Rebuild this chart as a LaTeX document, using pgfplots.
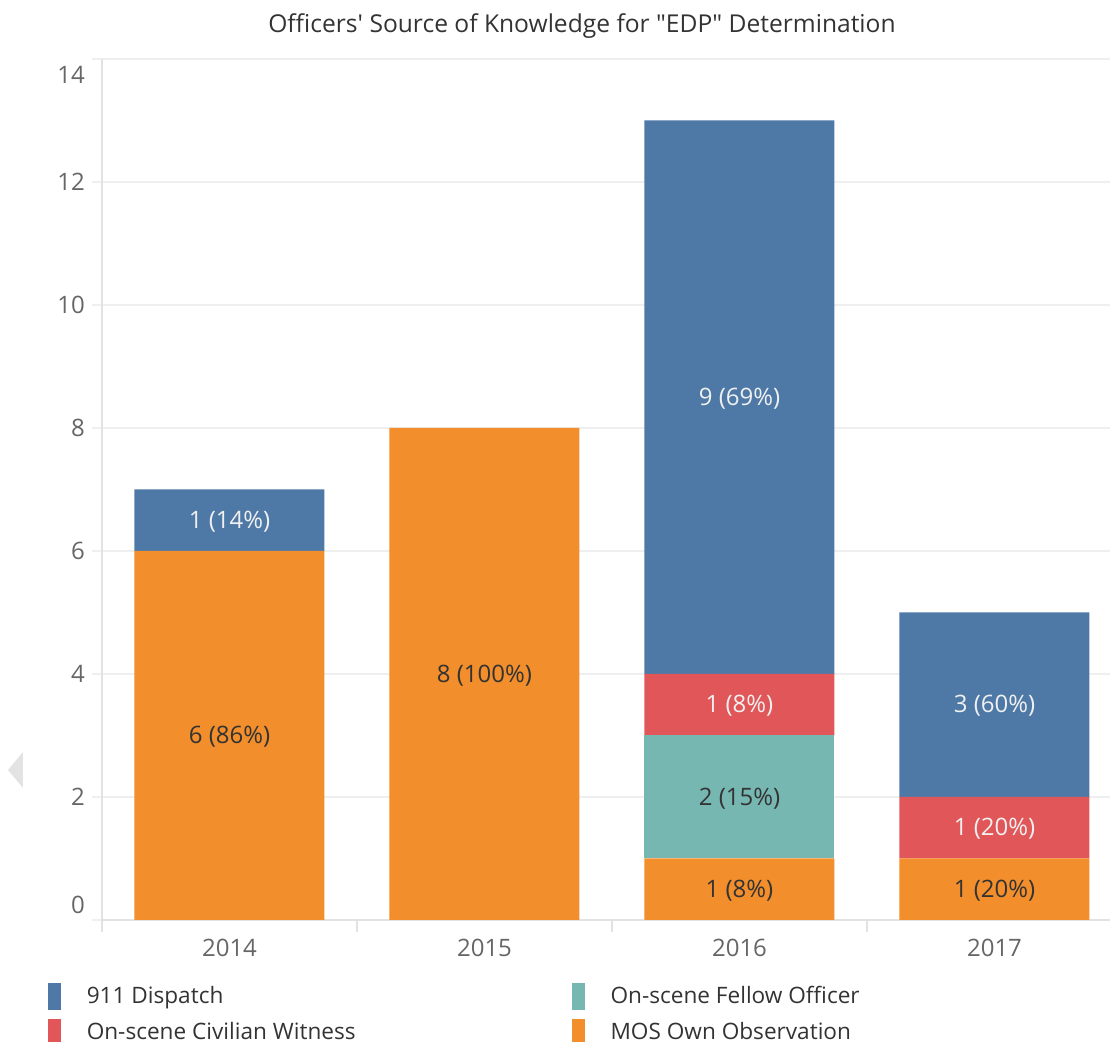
\documentclass[border=0pt]{standalone}
\usepackage{fontspec}
\setmainfont{Open Sans}
\newfontfamily\plainfont{Open Sans}
\usepackage{pgfplots}
\pgfplotsset{compat=1.18}
\definecolor{tabBlue}{HTML}{4E79A7}
\definecolor{tabOrange}{HTML}{F28E2B}
\definecolor{tabRed}{HTML}{E15759}
\definecolor{tabTeal}{HTML}{76B7B2}
\definecolor{tickgray}{HTML}{666666}
\definecolor{textdark}{HTML}{333333}
\definecolor{gridgray}{HTML}{EFEFEF}
\definecolor{axisgray}{HTML}{E2E2E2}
\tikzset{dl/.style={font=\fontsize{12}{14}\selectfont, text=textdark, yshift=-0.7pt},
         ll/.style={font=\fontsize{12}{14}\selectfont, text=white!94!black, yshift=-0.7pt}}

\begin{document}
\begin{tikzpicture}
\useasboundingbox (-51pt,-61pt) rectangle (504pt,460pt);

% title
\node[font=\plainfont\fontsize{12.3}{15}\selectfont, text=textdark] at (240pt,447pt)
  {Officers' Source of Knowledge for "EDP" Determination};

% scroll arrow at the left edge
\fill[gray!22] (-47pt,75pt) -- (-39.5pt,84pt) -- (-39.5pt,66pt) -- cycle;

\begin{axis}[
  scale only axis,
  width=504pt, height=430.5pt,
  ybar stacked,
  bar width=95pt,
  xmin=-0.5, xmax=3.453,
  ymin=0, ymax=14,
  xtick={0,1,2,3},
  xticklabels={2014,2015,2016,2017},
  ytick={0,2,4,6,8,10,12,14},
  yticklabels={\raisebox{7.5pt}[8.6pt][0pt]{0},2,4,6,8,10,12,\raisebox{-8pt}[8.6pt][0pt]{14}},
  /pgf/number format/assume math mode=true,
  ticklabel style={font=\fontsize{12}{14}\selectfont, text=tickgray},
  xticklabel style={yshift=-1pt},
  axis lines*=left,
  axis line style={draw=axisgray, line width=0.8pt},
  tick align=outside,
  major tick length=5pt,
  ytick style={draw=gridgray, line width=0.8pt},
  xtick style={draw=none},
  ymajorgrids,
  grid style={draw=gridgray, line width=0.8pt},
  clip=false,
  legend columns=2,
  legend cell align=left,
  legend style={
    draw=none, fill=none,
    at={(-0.054,-0.0713)}, anchor=north west,
    font=\fontsize{11.3}{13}\selectfont,
    text=textdark,
    inner sep=0pt,
    row sep=4pt,
    /tikz/every odd column/.append style={column sep=11pt},
  },
  legend image code/.code={\fill[#1] (0pt,-6.5pt) rectangle (6pt,6.5pt);},
]
% legend entries in display order
\addlegendimage{tabBlue}
\addlegendentry{\makebox[240.5pt][l]{911 Dispatch}}
\addlegendimage{tabTeal}
\addlegendentry{On-scene Fellow Officer}
\addlegendimage{tabRed}
\addlegendentry{\makebox[240.5pt][l]{On-scene Civilian Witness}}
\addlegendimage{tabOrange}
\addlegendentry{MOS Own Observation}

% stacked bars, bottom to top
\addplot[fill=tabOrange, draw=none, forget plot] coordinates {(0,6) (1,8) (2,1) (3,1)};
\addplot[fill=tabTeal,   draw=none, forget plot] coordinates {(0,0) (1,0) (2,2) (3,0)};
\addplot[fill=tabRed,    draw=none, forget plot] coordinates {(0,0) (1,0) (2,1) (3,1)};
\addplot[fill=tabBlue,   draw=none, forget plot] coordinates {(0,1) (1,0) (2,9) (3,3)};

% anchor points for separators and segment labels
\coordinate (s0) at (axis cs:-0.5,0);
\coordinate (s1) at (axis cs:0.5,0);
\coordinate (s2) at (axis cs:1.5,0);
\coordinate (s3) at (axis cs:2.5,0);
\coordinate (a1) at (axis cs:0,3);
\coordinate (a2) at (axis cs:0,6.5);
\coordinate (b1) at (axis cs:1,4);
\coordinate (c1) at (axis cs:2,0.5);
\coordinate (c2) at (axis cs:2,2);
\coordinate (c3) at (axis cs:2,3.5);
\coordinate (c4) at (axis cs:2,8.5);
\coordinate (d1) at (axis cs:3,0.5);
\coordinate (d2) at (axis cs:3,1.5);
\coordinate (d3) at (axis cs:3,3.5);
\end{axis}

% category separators below the baseline
\foreach \p in {s0,s1,s2,s3}
  \draw[axisgray, line width=0.8pt] (\p) -- ([yshift=-6pt]\p);

% segment labels
\node[dl] at (a1) {6 (86\%)};
\node[ll] at (a2) {1 (14\%)};
\node[dl] at (b1) {8 (100\%)};
\node[dl] at (c1) {1 (8\%)};
\node[dl] at (c2) {2 (15\%)};
\node[ll] at (c3) {1 (8\%)};
\node[ll] at (c4) {9 (69\%)};
\node[dl] at (d1) {1 (20\%)};
\node[ll] at (d2) {1 (20\%)};
\node[ll] at (d3) {3 (60\%)};
\end{tikzpicture}
\end{document}
